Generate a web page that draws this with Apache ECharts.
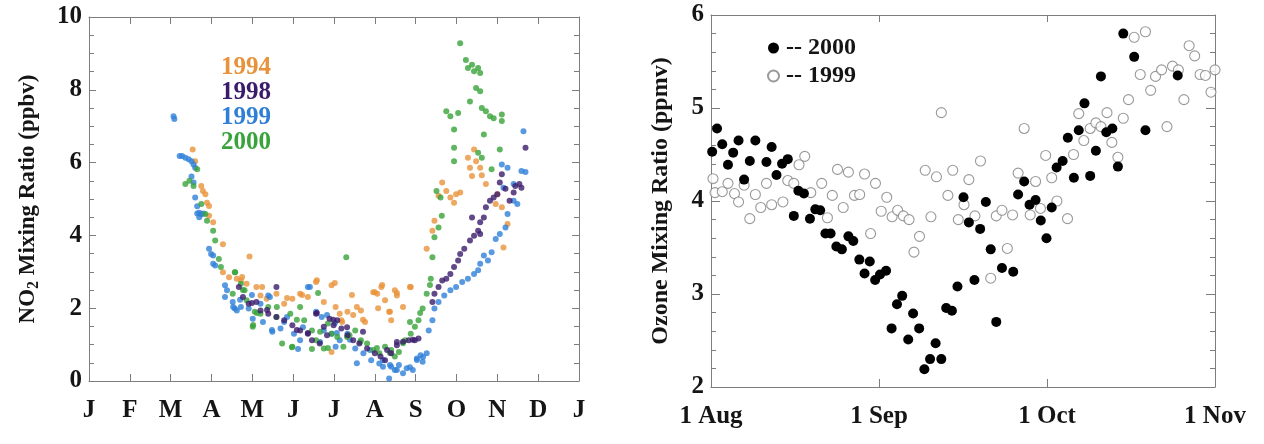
<!DOCTYPE html>
<html>
<head>
<meta charset="utf-8">
<script src="https://cdn.jsdelivr.net/npm/echarts@6/dist/echarts.min.js"></script>
<style>
  html, body { margin: 0; padding: 0; background: #fff; }
  #chart { width: 1264px; height: 444px; }
</style>
</head>
<body>
<div id="chart"></div>
<script>
// x in months since 1 Jan (left) / since 1 Aug (right)
const monthLabels = ['J', 'F', 'M', 'A', 'M', 'J', 'J', 'A', 'S', 'O', 'N', 'D', 'J']
const ozoneLabels = ['1 Aug', '1 Sep', '1 Oct', '1 Nov']

// NO2 mixing ratio (ppbv)
const no2_1994 = [
  [2.54, 6.36], [2.6, 6.04], [2.75, 5.36], [2.79, 5.22], [2.85, 5.13], [2.89, 4.9], [2.94, 4.81], [2.94, 4.54],
  [3.04, 4.36], [3.28, 3.76], [3.93, 3.42], [3.28, 2.99], [3.43, 2.85], [3.62, 2.81], [3.72, 2.76], [3.86, 2.67],
  [4.1, 2.58], [4.2, 2.35], [4.35, 2.26], [4.59, 2.4], [4.78, 2.12], [4.98, 2.26], [5.17, 2.4], [5.36, 2.31],
  [5.56, 2.72], [5.75, 2.17], [5.94, 2.63], [6.04, 2.03], [6.14, 1.85], [6.18, 1.67], [6.33, 1.9], [6.47, 1.81],
  [6.56, 2.03], [6.66, 1.94], [6.76, 1.62], [6.96, 2.44], [7.06, 2.4], [7.16, 2.58], [7.25, 2.22], [7.35, 1.9],
  [7.4, 1.67], [7.49, 2.49], [7.54, 2.35], [7.69, 2.03], [7.88, 2.58], [5.94, 0.8],
  [3.75, 2.86], [4.24, 2.58], [4.85, 2.28], [5.22, 2.36], [5.58, 2.77], [6.02, 2.69], [6.44, 2.36], [7.0, 2.44],
  [7.18, 2.64], [7.54, 2.42], [7.86, 2.58], [7.08, 2.0], [7.37, 1.9], [6.71, 1.68], [6.2, 1.62],
  [8.27, 3.63], [8.41, 4.13], [8.46, 4.4], [8.56, 5.09], [8.65, 5.45], [8.75, 5.22], [8.85, 5.04], [8.94, 4.9],
  [8.99, 5.13], [9.09, 5.18], [9.28, 6.13], [9.33, 5.86], [9.38, 5.63], [9.43, 6.36], [9.48, 6.04], [9.58, 5.86],
  [9.62, 5.65], [9.72, 5.41], [9.96, 4.86], [10.11, 4.77], [10.15, 3.67], [10.25, 4.31], [10.0, 5.13]
]
const no2_1998 = [
  [3.67, 2.58], [3.77, 2.31], [3.91, 2.12], [4.1, 2.17], [4.2, 1.94], [4.59, 2.58], [4.39, 1.85], [4.59, 1.76],
  [4.78, 1.67], [4.98, 1.53], [5.17, 1.39], [5.36, 1.3], [5.46, 1.12], [5.56, 1.85], [5.65, 1.03], [5.75, 1.49],
  [5.89, 1.71], [5.99, 1.53], [6.08, 1.67], [6.18, 1.44], [6.33, 1.26], [6.47, 1.12], [6.62, 1.03], [6.81, 0.89],
  [7.0, 0.76], [7.14, 0.67], [7.25, 0.57], [7.4, 0.76], [7.54, 0.98], [7.69, 1.08], [7.83, 1.12], [7.98, 1.12],
  [8.07, 1.17], [3.99, 2.14], [5.58, 1.87], [5.09, 1.4], [5.36, 1.32], [5.83, 1.26], [4.36, 1.95], [5.98, 1.68],
  [6.32, 1.48], [6.71, 1.35], [7.54, 1.07], [7.93, 1.13], [7.3, 0.85],
  [8.41, 2.17], [8.46, 2.4], [8.56, 2.58], [8.65, 2.76], [8.75, 2.81], [8.85, 2.94], [8.94, 3.13],
  [9.04, 3.31], [9.09, 3.49], [9.19, 3.63], [9.33, 3.86], [9.43, 3.99], [9.53, 4.13], [9.58, 4.36], [9.67, 4.49],
  [9.72, 4.77], [9.82, 4.95], [9.91, 5.04], [10.0, 5.13], [10.06, 5.45], [10.11, 5.68], [10.2, 5.28], [10.3, 4.95],
  [10.4, 5.18], [10.44, 5.36], [10.54, 5.41], [10.59, 5.31], [10.69, 6.41], [9.38, 4.49], [9.58, 4.04]
]
const no2_1999 = [
  [2.07, 7.27], [2.09, 7.2], [2.22, 6.18], [2.28, 6.18], [2.36, 6.13], [2.44, 6.09], [2.51, 6.04], [2.56, 5.95],
  [2.6, 5.86], [2.51, 5.62], [2.56, 5.45], [2.6, 5.04], [2.65, 4.8], [2.65, 4.6], [2.7, 4.62], [2.75, 4.58],
  [2.8, 4.6], [2.7, 4.5], [2.94, 3.63], [2.99, 3.49], [3.04, 3.45], [3.04, 3.22], [3.09, 3.17], [3.33, 2.63],
  [3.38, 2.49], [3.33, 2.31], [3.52, 2.17], [3.57, 1.99], [3.62, 1.94], [3.72, 2.03], [3.91, 1.99], [4.01, 1.71],
  [4.2, 2.12], [4.39, 2.35], [4.49, 1.35], [4.69, 1.44], [4.78, 1.62], [5.02, 1.3], [5.17, 1.12], [5.36, 2.58],
  [5.56, 1.9], [5.7, 1.76], [5.75, 1.39], [5.94, 1.3], [6.04, 0.94], [6.14, 1.12], [6.33, 1.3], [6.52, 0.89],
  [6.72, 0.76], [6.91, 0.57], [7.11, 0.48], [7.2, 0.39], [7.35, 0.07], [7.4, 0.39], [7.49, 0.3], [7.59, 0.44],
  [7.69, 0.21], [7.78, 0.35], [7.93, 0.3], [8.03, 0.62], [8.12, 0.71], [8.17, 0.53], [8.27, 0.76],
  [3.53, 2.03], [4.26, 1.62], [4.48, 1.4], [5.41, 2.58], [5.12, 0.88], [5.66, 1.07], [5.83, 1.81], [6.02, 1.59],
  [4.43, 2.31], [3.7, 2.23], [3.99, 2.36], [4.85, 1.76], [5.24, 1.48], [6.07, 1.32], [6.56, 0.49], [7.2, 0.58],
  [7.54, 0.3], [7.86, 0.38], [8.18, 0.66], [6.88, 0.85], [6.39, 1.13], [8.03, 0.58], [7.37, 0.44],
  [8.32, 1.39], [8.41, 1.67], [8.46, 1.99], [8.56, 2.17], [8.7, 2.35], [8.85, 2.49], [8.99, 2.58], [9.14, 2.72],
  [9.28, 2.81], [9.43, 2.94], [9.53, 3.04], [9.58, 3.22], [9.67, 3.45], [9.77, 3.31], [9.86, 3.54], [9.96, 3.9],
  [10.06, 4.04], [10.2, 4.22], [10.25, 4.59], [10.15, 5.31], [10.11, 5.95], [10.25, 5.86], [10.4, 5.41],
  [10.4, 4.95], [10.49, 4.86], [10.59, 5.77], [10.64, 6.86], [10.69, 5.74]
]
const no2_2000 = [
  [2.36, 5.41], [2.46, 5.5], [2.56, 5.36], [2.65, 5.82], [2.75, 4.86], [2.85, 4.59], [2.89, 4.4], [3.04, 4.13],
  [3.09, 3.86], [3.18, 3.35], [3.23, 3.13], [3.52, 2.4], [3.57, 2.99], [3.72, 2.67], [3.81, 2.49], [3.86, 2.22],
  [4.06, 1.9], [4.01, 1.49], [4.2, 1.85], [4.39, 2.03], [4.59, 1.76], [4.73, 1.03], [4.93, 1.85], [4.98, 0.94],
  [5.17, 2.03], [5.27, 1.67], [5.46, 1.39], [5.56, 1.12], [5.75, 0.89], [5.85, 1.58], [5.94, 1.3], [6.08, 1.21],
  [6.3, 3.4], [6.23, 0.94], [6.38, 1.26], [6.52, 1.39], [6.66, 1.12], [6.81, 1.03], [6.96, 0.85], [7.11, 0.76],
  [7.25, 0.94], [7.4, 0.85], [7.49, 0.67], [7.59, 0.8], [7.74, 1.12], [7.88, 1.3], [7.98, 1.49], [8.07, 1.67],
  [3.58, 2.99], [4.02, 1.54], [4.97, 0.93], [5.46, 0.88], [5.61, 2.42], [5.85, 0.91], [3.77, 2.5], [4.11, 1.87],
  [4.6, 2.03], [5.09, 1.68], [5.66, 1.35], [8.35, 2.64], [8.11, 1.87], [7.86, 1.62], [7.05, 0.91], [6.64, 1.07],
  [6.32, 1.21], [7.37, 0.77], [7.69, 1.04],
  [8.17, 1.99], [8.27, 2.4], [8.37, 2.81], [8.41, 3.4], [8.46, 3.95], [8.56, 4.22], [8.51, 5.22], [8.61, 5.04],
  [8.64, 4.54], [8.75, 7.41], [8.85, 7.27], [8.94, 6.91], [8.94, 6.41], [8.94, 6.04], [9.04, 7.36], [9.09, 9.28],
  [9.23, 8.82], [9.28, 8.6], [9.38, 8.69], [9.43, 8.51], [9.53, 8.6], [9.58, 8.46], [9.33, 7.68], [9.48, 8.05],
  [9.58, 7.96], [9.62, 7.5], [9.72, 7.41], [9.82, 7.27], [9.91, 7.22], [9.67, 6.77], [10.11, 7.32], [10.11, 7.14],
  [10.06, 6.36], [9.86, 5.82], [9.53, 6.27], [9.62, 6.13]
]

// Ozone mixing ratio (ppmv)
const o3_2000 = [
  [0.007, 4.53], [0.036, 4.78], [0.067, 4.61], [0.101, 4.39], [0.132, 4.52], [0.164, 4.65], [0.197, 4.23],
  [0.231, 4.43], [0.264, 4.65], [0.33, 4.42], [0.361, 4.58], [0.39, 4.28], [0.423, 4.4], [0.457, 4.45],
  [0.493, 3.84], [0.52, 4.11], [0.553, 4.08], [0.589, 3.81], [0.621, 3.91], [0.65, 3.9], [0.681, 3.65],
  [0.712, 3.65], [0.746, 3.51], [0.779, 3.48], [0.818, 3.62], [0.847, 3.57], [0.883, 3.37], [0.914, 3.22],
  [0.945, 3.35], [0.977, 3.15], [1.006, 3.21], [1.042, 3.25], [1.075, 2.63], [1.107, 2.89], [1.138, 2.98],
  [1.174, 2.51], [1.203, 2.79], [1.239, 2.63], [1.27, 2.19], [1.304, 2.3], [1.337, 2.47], [1.371, 2.3],
  [1.4, 2.85], [1.434, 2.82], [1.467, 3.08], [1.503, 4.04], [1.535, 3.77], [1.568, 3.15], [1.602, 3.7],
  [1.636, 3.99], [1.665, 3.48], [1.698, 2.7], [1.732, 3.28], [1.799, 3.24], [1.828, 4.07], [1.864, 4.21],
  [1.896, 3.96], [1.932, 4.01], [1.963, 3.79], [1.997, 3.6], [2.028, 3.93], [2.057, 4.36], [2.093, 4.43],
  [2.124, 4.68], [2.16, 4.25], [2.189, 4.76], [2.223, 5.05], [2.257, 4.27], [2.291, 4.54], [2.321, 5.34],
  [2.353, 4.74], [2.389, 4.78], [2.422, 4.37], [2.454, 5.8], [2.519, 5.55], [2.586, 4.76], [2.778, 5.35]
]
const o3_1999 = [
  [0.012, 4.24], [0.024, 4.09], [0.067, 4.1], [0.101, 4.19], [0.14, 4.08], [0.164, 3.99], [0.197, 4.17],
  [0.231, 3.81], [0.264, 4.07], [0.296, 3.93], [0.33, 4.19], [0.361, 3.96], [0.428, 3.99], [0.457, 4.22],
  [0.493, 4.19], [0.524, 4.39], [0.558, 4.48], [0.594, 4.09], [0.659, 4.19], [0.693, 3.82], [0.722, 4.06],
  [0.753, 4.34], [0.787, 3.93], [0.818, 4.31], [0.854, 4.06], [0.885, 4.07], [0.914, 4.29], [0.95, 3.65],
  [0.979, 4.19], [1.013, 3.89], [1.046, 4.04], [1.078, 3.83], [1.111, 3.9], [1.145, 3.84], [1.179, 3.8],
  [1.208, 3.45], [1.241, 3.62], [1.275, 4.33], [1.309, 3.83], [1.342, 4.26], [1.371, 4.95], [1.41, 4.06],
  [1.439, 4.33], [1.472, 3.8], [1.506, 3.96], [1.535, 4.23], [1.571, 3.84], [1.604, 4.43], [1.665, 3.17],
  [1.698, 3.84], [1.732, 3.9], [1.764, 3.49], [1.795, 3.85], [1.828, 4.3], [1.864, 4.78], [1.9, 3.85],
  [1.932, 4.21], [1.961, 3.92], [1.992, 4.49], [2.028, 4.25], [2.059, 4.0], [2.122, 3.81], [2.158, 4.5],
  [2.189, 4.94], [2.219, 4.65], [2.257, 4.78], [2.291, 4.84], [2.321, 4.8], [2.357, 4.95], [2.386, 4.63],
  [2.422, 4.47], [2.454, 4.89], [2.485, 5.09], [2.519, 5.76], [2.555, 5.36], [2.586, 5.82], [2.617, 5.19],
  [2.646, 5.34], [2.682, 5.41], [2.714, 4.8], [2.747, 5.45], [2.782, 5.41], [2.815, 5.09], [2.846, 5.67],
  [2.879, 5.56], [2.911, 5.36], [2.943, 5.35], [2.976, 5.17], [3.0, 5.41]
]

const FONT = 'Liberation Serif'
const AXIS_COLOR = '#7d7d7d'
const TEXT_COLOR = '#151515'

const chart = echarts.init(document.getElementById('chart'), null, { renderer: 'canvas' })

function frameAxis(base, extra) {
  return Object.assign({
    axisLine: { show: true, onZero: false, lineStyle: { color: AXIS_COLOR, width: 1 } },
    axisTick: { show: true, inside: true, length: 7, lineStyle: { color: AXIS_COLOR } },
    splitLine: { show: false },
    axisLabel: { show: false }
  }, base, extra)
}

const labelStyle = { color: TEXT_COLOR, fontFamily: FONT, fontWeight: 'bold', fontSize: 25 }

const option = {
  backgroundColor: '#fff',
  animation: false,
  grid: [
    { left: 89, top: 17, width: 490, height: 364 },
    { left: 711, top: 15, width: 504, height: 372 }
  ],
  legend: [
    {
      left: 211, top: 50, orient: 'vertical', icon: 'none', itemGap: 0, itemWidth: 0,
      selectedMode: false,
      textStyle: { fontFamily: FONT, fontWeight: 'bold', fontSize: 25, lineHeight: 24 },
      data: [
        { name: '1994', textStyle: { color: '#e8923a' } },
        { name: '1998', textStyle: { color: '#3b1c6b' } },
        { name: '1999', textStyle: { color: '#2f7fd8' } },
        { name: '2000', textStyle: { color: '#38a33a' } }
      ]
    },
    {
      left: 762, top: 31, orient: 'vertical', itemGap: 4, itemWidth: 11, itemHeight: 11,
      selectedMode: false,
      formatter: (n) => '-- ' + n.split(' ')[1],
      textStyle: { fontFamily: FONT, fontWeight: 'bold', fontSize: 24, color: TEXT_COLOR, padding: [0, 0, 0, 2] },
      data: ['Ozone 2000', 'Ozone 1999']
    }
  ],
  xAxis: [
    frameAxis({ gridIndex: 0, type: 'value', min: 0, max: 12, interval: 1, position: 'bottom' }, {
      axisLabel: { show: true, margin: 17, ...labelStyle, formatter: (v) => monthLabels[Math.round(v)] }
    }),
    frameAxis({ gridIndex: 0, type: 'value', min: 0, max: 12, interval: 1, position: 'top' }),
    frameAxis({ gridIndex: 1, type: 'value', min: 0, max: 3, interval: 1, position: 'bottom' }, {
      axisTick: { show: true, inside: true, length: 8, lineStyle: { color: AXIS_COLOR } },
      axisLabel: { show: true, margin: 17, ...labelStyle, formatter: (v) => ozoneLabels[Math.round(v)] }
    }),
    frameAxis({ gridIndex: 1, type: 'value', min: 0, max: 3, interval: 1, position: 'top' })
  ],
  yAxis: [
    frameAxis({ gridIndex: 0, type: 'value', min: 0, max: 10, interval: 2, position: 'left' }, {
      minorTick: { show: true, splitNumber: 4, length: 5, lineStyle: { color: AXIS_COLOR } },
      axisLabel: { show: true, margin: 7, ...labelStyle },
      name: '{a|NO}{b|2}{a| Mixing Ratio (ppbv)}',
      nameLocation: 'middle',
      nameGap: 46,
      nameTextStyle: {
        rich: {
          a: { fontFamily: FONT, fontWeight: 'bold', fontSize: 23, color: TEXT_COLOR, lineHeight: 30 },
          b: { fontFamily: FONT, fontWeight: 'bold', fontSize: 16, color: TEXT_COLOR, lineHeight: 30, padding: [12, 0, 0, 0] }
        }
      }
    }),
    frameAxis({ gridIndex: 0, type: 'value', min: 0, max: 10, interval: 2, position: 'right' }, {
      minorTick: { show: true, splitNumber: 4, length: 5, lineStyle: { color: AXIS_COLOR } }
    }),
    frameAxis({ gridIndex: 1, type: 'value', min: 2, max: 6, interval: 1, position: 'left' }, {
      axisTick: { show: true, inside: true, length: 9, lineStyle: { color: AXIS_COLOR } },
      minorTick: { show: true, splitNumber: 5, length: 5, lineStyle: { color: AXIS_COLOR } },
      axisLabel: { show: true, margin: 7, ...labelStyle },
      name: 'Ozone Mixing Ratio (ppmv)',
      nameLocation: 'middle',
      nameGap: 38,
      nameTextStyle: { fontFamily: FONT, fontWeight: 'bold', fontSize: 24, color: TEXT_COLOR }
    }),
    frameAxis({ gridIndex: 1, type: 'value', min: 2, max: 6, interval: 1, position: 'right' }, {
      axisTick: { show: true, inside: true, length: 9, lineStyle: { color: AXIS_COLOR } },
      minorTick: { show: true, splitNumber: 5, length: 5, lineStyle: { color: AXIS_COLOR } }
    })
  ],
  series: [
    { name: '1994', type: 'scatter', xAxisIndex: 0, yAxisIndex: 0, symbolSize: 6, itemStyle: { color: '#e8923a' }, data: no2_1994 },
    { name: '1999', type: 'scatter', xAxisIndex: 0, yAxisIndex: 0, symbolSize: 6, itemStyle: { color: '#2f7fd8' }, data: no2_1999 },
    { name: '2000', type: 'scatter', xAxisIndex: 0, yAxisIndex: 0, symbolSize: 6, itemStyle: { color: '#38a33a' }, data: no2_2000 },
    { name: '1998', type: 'scatter', xAxisIndex: 0, yAxisIndex: 0, symbolSize: 6, itemStyle: { color: '#3b1c6b' }, data: no2_1998 },
    {
      name: 'Ozone 1999', type: 'scatter', xAxisIndex: 2, yAxisIndex: 2, symbolSize: 10,
      itemStyle: { color: '#fff', borderColor: '#808080', borderWidth: 1.1 }, data: o3_1999
    },
    {
      name: 'Ozone 2000', type: 'scatter', xAxisIndex: 2, yAxisIndex: 2, symbolSize: 10,
      itemStyle: { color: '#000', opacity: 1 }, data: o3_2000
    }
  ]
}

chart.setOption(option)
</script>
</body>
</html>
